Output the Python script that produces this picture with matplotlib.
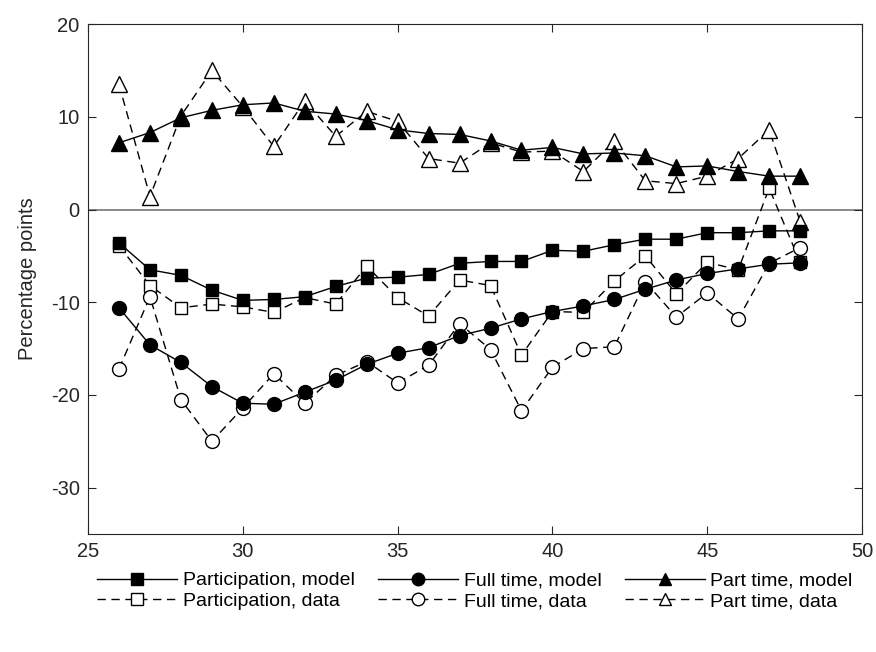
import numpy as np
import matplotlib.pyplot as plt

plt.rcParams['font.family'] = ['Liberation Sans', 'DejaVu Sans']
plt.rcParams['axes.unicode_minus'] = False

age = list(range(26, 49))

part_model = [-3.6, -6.5, -7.1, -8.7, -9.8, -9.7, -9.4, -8.3, -7.4, -7.3, -7.0, -5.8,
              -5.6, -5.6, -4.4, -4.5, -3.8, -3.2, -3.2, -2.5, -2.5, -2.3, -2.3]
part_data = [-3.9, -8.2, -10.6, -10.2, -10.5, -11.1, -9.5, -10.2, -6.1, -9.5, -11.5, -7.6,
             -8.2, -15.7, -11.0, -11.1, -7.7, -5.0, -9.1, -5.7, -6.5, 2.3, -5.7]
full_model = [-10.6, -14.6, -16.5, -19.1, -20.9, -21.0, -19.7, -18.4, -16.7, -15.5, -14.9, -13.6,
              -12.8, -11.8, -11.0, -10.4, -9.7, -8.6, -7.6, -6.9, -6.4, -5.9, -5.75]
full_data = [-17.2, -9.4, -20.5, -25.0, -21.4, -17.7, -20.9, -17.9, -16.4, -18.7, -16.8, -12.3,
             -15.1, -21.7, -17.0, -15.0, -14.8, -7.8, -11.6, -9.0, -11.8, -5.8, -4.1]
pt_model = [7.2, 8.3, 9.9, 10.7, 11.3, 11.5, 10.6, 10.3, 9.6, 8.6, 8.2, 8.1,
            7.4, 6.4, 6.7, 6.0, 6.1, 5.8, 4.6, 4.7, 4.1, 3.6, 3.6]
pt_data = [13.5, 1.4, 10.1, 15.0, 11.1, 6.8, 11.7, 7.9, 10.6, 9.5, 5.5, 5.0,
           7.2, 6.2, 6.3, 4.1, 7.4, 3.1, 2.8, 3.6, 5.5, 8.6, -1.3]

fig = plt.figure(figsize=(8.76, 6.52), dpi=100)
ax = fig.add_axes([0.1005, 0.181, 0.8836, 0.782])

ax.axhline(0, color='#808080', lw=1.3, zorder=1)

dash = (0, (6, 4))
ms = 9
ax.plot(age, part_model, '-', color='k', lw=1, marker='s', ms=ms, mfc='k', mec='k',
        label='Participation, model', zorder=3)
ax.plot(age, part_data, linestyle=dash, color='k', lw=1, marker='s', ms=ms, mfc='white', mec='k',
        label='Participation, data', zorder=2)
ax.plot(age, full_model, '-', color='k', lw=1, marker='o', ms=ms + 1, mfc='k', mec='k',
        label='Full time, model', zorder=3)
ax.plot(age, full_data, linestyle=dash, color='k', lw=1, marker='o', ms=ms + 1, mfc='white', mec='k',
        label='Full time, data', zorder=2)
ax.plot(age, pt_model, '-', color='k', lw=1, marker='^', ms=ms + 2, mfc='k', mec='k',
        label='Part time, model', zorder=3)
ax.plot(age, pt_data, linestyle=dash, color='k', lw=1, marker='^', ms=ms + 2, mfc='white', mec='k',
        label='Part time, data', zorder=2)

ax.set_xlim(25, 50)
ax.set_ylim(-35, 20)
ax.set_xticks(range(25, 51, 5))
ax.set_yticks(range(-30, 21, 10))
ax.tick_params(direction='in', length=6, width=0.8, top=True, right=True,
               labelsize=14.5, colors='#262626', pad=6)
for s in ax.spines.values():
    s.set_color('#262626')
    s.set_linewidth(0.8)
ax.set_ylabel('Percentage points', fontsize=14.5, color='#262626', labelpad=10)

leg = ax.legend(loc='upper center', bbox_to_anchor=(0.5, -0.04), ncol=3, frameon=False,
                fontsize=14, handlelength=4.1, columnspacing=1.2, handletextpad=0.3,
                labelspacing=0.15)
for h in leg.legend_handles:
    h.set_markersize(9)

fig.savefig('out.png', dpi=100)
